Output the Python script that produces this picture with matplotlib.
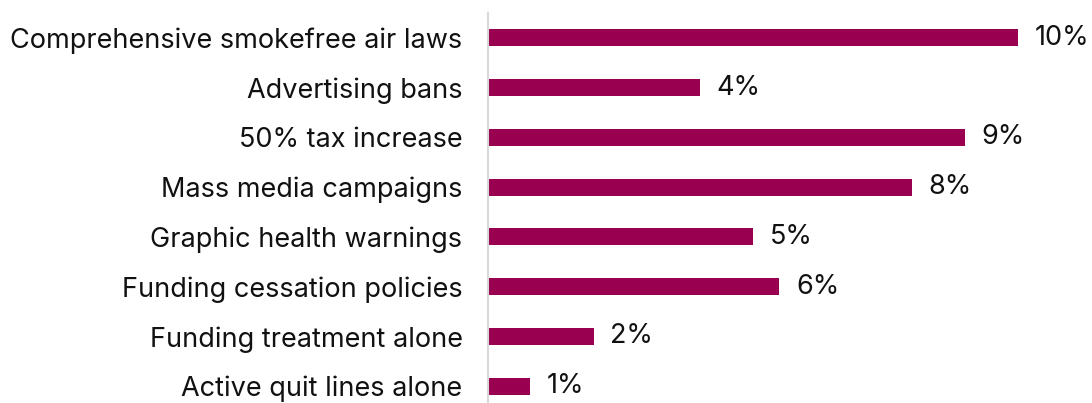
import matplotlib.pyplot as plt

# Data
policies = ['Comprehensive smokefree air laws', 'Advertising bans', '50% tax increase',
            'Mass media campaigns', 'Graphic health warnings', 'Funding cessation policies',
            'Funding treatment alone', 'Active quit lines alone']
values = [10.0, 4.0, 9.0, 8.0, 5.0, 5.5, 2.0, 0.8]
labels = ['10%', '4%', '9%', '8%', '5%', '6%', '2%', '1%']

plt.rcParams['font.family'] = ['Inter', 'DejaVu Sans']

fig = plt.figure(figsize=(10.92, 4.03), dpi=100)
ax = fig.add_axes([487.5 / 1092, -8 / 403, 1 - 487.5 / 1092, (411 - 13) / 403])

pos = list(range(len(policies)))
ax.barh(pos, values, height=0.34, color='#99004f')
for p, v, lab in zip(pos, values, labels):
    ax.text(v + 0.32, p, lab, va='center', ha='left', fontsize=19.5, color='#111111')

ax.set_ylim(len(policies) - 0.5, -0.5)
ax.set_xlim(0, (1092 - 487.5) / 53)
ax.set_yticks(pos)
ax.set_yticklabels(policies, fontsize=19.5, color='#111111')
ax.tick_params(axis='y', length=0, pad=18)
ax.set_xticks([])
for s in ['top', 'right', 'bottom']:
    ax.spines[s].set_visible(False)
ax.spines['left'].set_color('#d9d9d9')
ax.spines['left'].set_linewidth(1.5)

fig.savefig('out.png', dpi=100)
